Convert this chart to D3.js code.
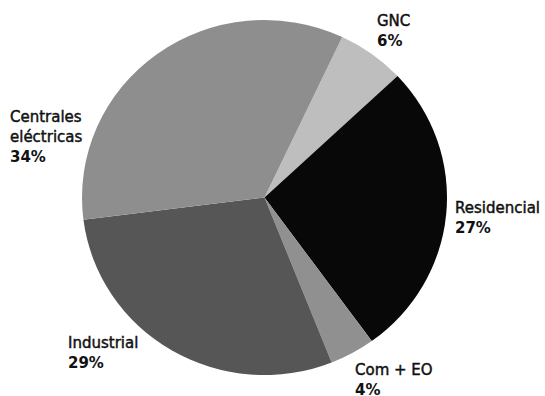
<!DOCTYPE html>
<html>
<head>
<meta charset="utf-8">
<script src="https://cdn.jsdelivr.net/npm/d3@7/dist/d3.min.js"></script>
<style>
  html, body { margin: 0; padding: 0; background: #fff; }
  svg { display: block; }
  text { font-family: "DejaVu Sans", sans-serif; fill: #111; }
</style>
</head>
<body>
<svg id="chart" width="545" height="396"></svg>
<script>
// Consumo por sector (porcentaje), en el orden horario del gráfico
const categories = ["GNC", "Residencial", "Com + EO", "Industrial", "Centrales eléctricas"];
const shares = [6, 27, 4, 29, 34];
const nameLines = [["GNC"], ["Residencial"], ["Com + EO"], ["Industrial"], ["Centrales", "eléctricas"]];
const sliceColors = ["#bebebe", "#080808", "#909090", "#565656", "#8e8e8e"];

const W = 545, H = 396;
const cx = 264.5, cy = 197.5;
const ry = 177.5, rx = 182.5;
const startDeg = 25.2;

const svg = d3.select("#chart");

const pie = d3.pie()
  .sort(null)
  .value(d => d.value)
  .startAngle(startDeg * Math.PI / 180)
  .endAngle(startDeg * Math.PI / 180 + 2 * Math.PI);

const rows = categories.map((c, i) => ({ name: c, value: shares[i], color: sliceColors[i], lines: nameLines[i] }));

const arc = d3.arc().innerRadius(0).outerRadius(ry);

const g = svg.append("g")
  .attr("transform", `translate(${cx},${cy}) scale(${rx / ry},1)`);

g.selectAll("path")
  .data(pie(rows))
  .join("path")
  .attr("d", arc)
  .attr("fill", d => d.data.color);

// Label anchor (left edge, first baseline) for each sector
const labelAnchor = {
  "GNC": [377, 26],
  "Residencial": [455, 213],
  "Com + EO": [355, 375],
  "Industrial": [68, 348],
  "Centrales eléctricas": [10, 121.5]
};
const lineH = 20.3;

const lg = svg.append("g");
rows.forEach(r => {
  const [x, y] = labelAnchor[r.name];
  const t = lg.append("text")
    .attr("x", x).attr("y", y)
    .style("font-size", "15px");
  r.lines.forEach((ln, k) => {
    t.append("tspan")
      .attr("x", x)
      .attr("dy", k === 0 ? 0 : lineH)
      .style("stroke", "#111")
      .style("stroke-width", "0.45px")
      .text(ln);
  });
  t.append("tspan")
    .attr("x", x)
    .attr("dy", lineH)
    .style("font-weight", "bold")
    .text(r.value + "%");
});
</script>
</body>
</html>
